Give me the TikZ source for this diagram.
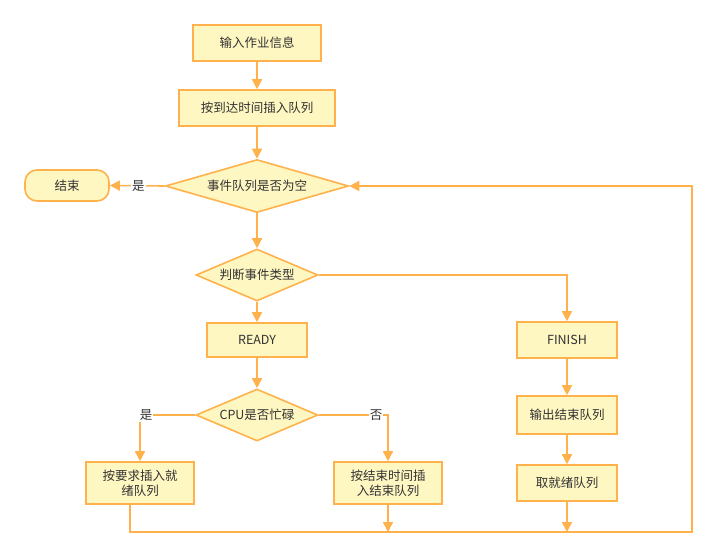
\documentclass[tikz,border=0pt]{standalone}
\usepackage{fontspec}
\setmainfont{Noto Sans CJK SC}
\usetikzlibrary{shapes.geometric,arrows.meta,calc}
\definecolor{boxfill}{HTML}{FFF7C2}
\definecolor{boxline}{HTML}{FFB24C}
\definecolor{txt}{HTML}{333333}
\newcommand{\zw}[1]{\makebox[0pt]{#1}}
\begin{document}
\begin{tikzpicture}[x=1pt,y=-1pt,
  every node/.style={font=\fontsize{12.5}{15}\selectfont, text=txt},
  box/.style={draw=boxline, fill=boxfill, line width=1.6pt, inner sep=0pt, align=center},
  dia/.style={diamond, draw=boxline, fill=boxfill, line width=1.6pt, inner sep=0pt},
  conn/.style={draw=boxline, line width=1.6pt},
  arr/.style={conn, -{Triangle[length=10pt,width=10pt]}},
  lab/.style={fill=white, inner sep=1pt}]
\useasboundingbox (0,0) rectangle (717,557);
\node[box, minimum width=128pt, minimum height=36pt] (b1) at (257,43) {输入作业信息};
\node[box, minimum width=156pt, minimum height=36pt] (b2) at (257,108) {按到达时间插入队列};
\node[dia, minimum width=183pt, minimum height=53pt] (d1) at (257,186) {\zw{事件队列是否为空}};
\node[box, rounded corners=12pt, minimum width=84pt, minimum height=31pt] (end) at (67,185.5) {结束};
\node[dia, minimum width=122pt, minimum height=52pt] (d2) at (257,275) {\zw{判断事件类型}};
\node[box, minimum width=100pt, minimum height=34pt] (ready) at (257,340) {READY};
\node[box, minimum width=100pt, minimum height=36pt] (finish) at (567,340) {FINISH};
\node[dia, minimum width=122pt, minimum height=52pt] (d3) at (257,415) {\zw{CPU是否忙碌}};
\node[box, minimum width=108pt, minimum height=42pt] (lbox) at (140,483) {按要求插入就\\绪队列};
\node[box, minimum width=108pt, minimum height=42pt] (rbox) at (388,483) {按结束时间插\\入结束队列};
\node[box, minimum width=100pt, minimum height=38pt] (out) at (567,415) {输出结束队列};
\node[box, minimum width=100pt, minimum height=36pt] (take) at (567,483) {取就绪队列};
\coordinate (bl) at (130,532);
\coordinate (br) at (692,532);
\coordinate (tr) at (692,186);
\coordinate (rb) at (388,532);
\coordinate (tb) at (567,532);
\draw[arr] (b1.south) -- (b2.north);
\draw[arr] (b2.south) -- (d1.north);
\draw[arr] (d1.west) -- (end.east) node[lab, pos=0.48] {是};
\draw[arr] (d1.south) -- (d2.north);
\draw[arr] (d2.south) -- (ready.north);
\draw[arr] (d2.east) -| (finish.north);
\draw[arr] (ready.south) -- (d3.north);
\draw[arr] (d3.west) -| (lbox.north);
\draw[arr] (d3.east) -| (rbox.north);
\node[lab] (yes2) at (146,415) {是};
\node[lab] (no) at (376,415) {否};
\draw[arr] (finish.south) -- (out.north);
\draw[arr] (out.south) -- (take.north);
\draw[arr] ([xshift=-10pt]lbox.south) -- (bl) -- (br) -- (tr) -- (d1.east);
\draw[arr] (rbox.south) -- (rb);
\draw[arr] (take.south) -- (tb);
\end{tikzpicture}
\end{document}
